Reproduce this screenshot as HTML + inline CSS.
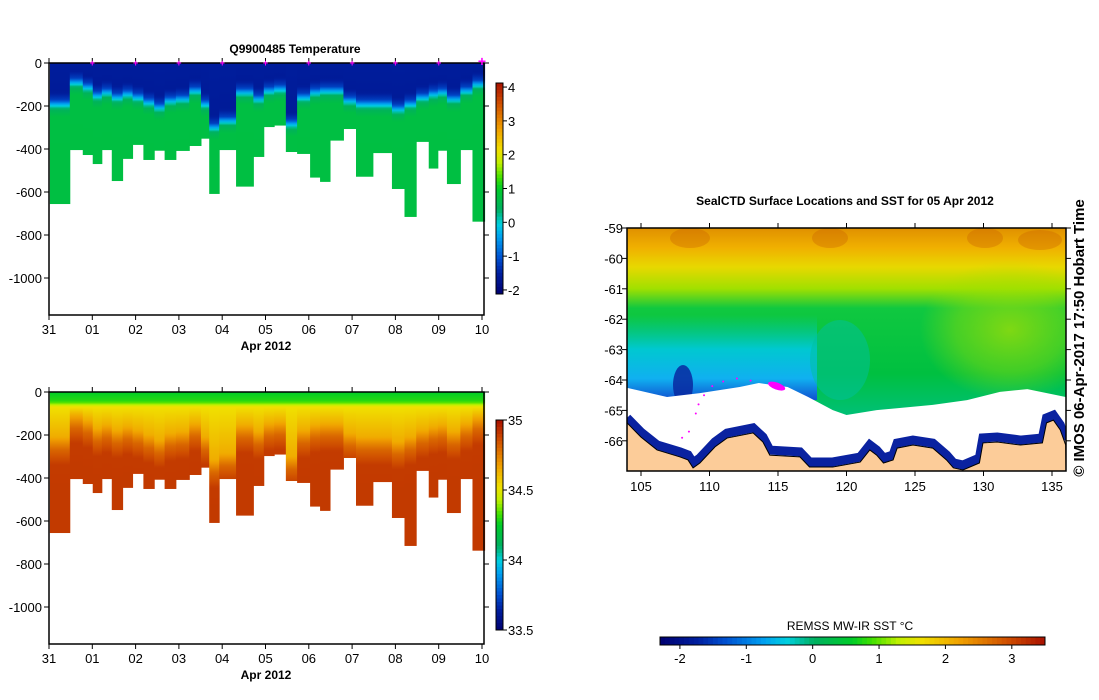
<!DOCTYPE html>
<html><head><meta charset="utf-8"><style>
body{margin:0;background:#fff}
svg{display:block;font-family:"Liberation Sans",sans-serif}
.tk{font-size:13px;fill:#000}
.tt{font-size:12px;font-weight:bold;fill:#000}
</style></head><body>
<svg id="root" width="1099" height="700" viewBox="0 0 1099 700">
<defs>
<linearGradient id="sstgrad" x1="0" y1="0" x2="0" y2="1">
<stop offset="0" stop-color="#e09000"/><stop offset="0.08" stop-color="#f0b000"/>
<stop offset="0.16" stop-color="#e8d800"/><stop offset="0.25" stop-color="#a0e000"/>
<stop offset="0.33" stop-color="#10c840"/><stop offset="0.6" stop-color="#00c040"/>
<stop offset="0.75" stop-color="#00c070"/><stop offset="1" stop-color="#00c0a0"/>
</linearGradient>
<linearGradient id="coldgrad" x1="0" y1="0" x2="0" y2="1">
<stop offset="0" stop-color="#00c8b0" stop-opacity="0"/><stop offset="0.4" stop-color="#00c8d0"/>
<stop offset="0.75" stop-color="#10b0f0"/><stop offset="1" stop-color="#1050d0"/>
</linearGradient>
<radialGradient id="rightgrad" cx="0.5" cy="0.5" r="0.5">
<stop offset="0" stop-color="#b0e000" stop-opacity="0.7"/><stop offset="0.6" stop-color="#a0e000" stop-opacity="0.4"/>
<stop offset="1" stop-color="#a0e000" stop-opacity="0"/>
</radialGradient>
<clipPath id="mapclip"><rect x="627" y="228" width="439" height="243"/></clipPath>
</defs>
<g id="charts"></g>
<g id="map"></g>
</svg>
<script>
// ---- section data ----
const colEdges=[0.02,0.48,0.78,1.01,1.22,1.45,1.70,1.93,2.18,2.43,2.67,2.93,3.24,3.51,3.70,3.93,4.32,4.72,4.96,5.20,5.47,5.73,6.03,6.26,6.49,6.80,7.09,7.48,7.92,8.21,8.48,8.77,8.98,9.19,9.50,9.78,10.06];
const colDepths=[656,405,428,470,405,549,446,381,451,408,451,409,386,352,609,405,575,437,298,291,414,423,533,553,361,307,529,419,586,716,367,491,408,563,405,738];
const clineDepths=[188,87,110,149,133,157,141,157,180,203,172,164,126,188,296,265,133,164,126,118,280,157,133,126,126,172,188,188,211,188,157,141,133,164,126,95];
const dayLabels=["31","01","02","03","04","05","06","07","08","09","10"];
const depthTicks=[0,-200,-400,-600,-800,-1000];
const tempCbarTicks=[4,3,2,1,0,-1,-2];
const salCbarTicks=["35","34.5","34","33.5"];
const salCbarVals=[35,34.5,34,33.5];
const sstTicks=[-2,-1,0,1,2,3];
const latTicks=[-59,-60,-61,-62,-63,-64,-65,-66];
const lonTicks=[105,110,115,120,125,130,135];

const NS="http://www.w3.org/2000/svg";
const root=document.getElementById('root');
const defs=root.querySelector('defs');
const charts=document.getElementById('charts');
function mk(tag,attrs,parent){const e=document.createElementNS(NS,tag);for(const k in attrs)e.setAttribute(k,attrs[k]);(parent||charts).appendChild(e);return e;}

const cmStops=[[0,[0,0,112]],[0.1,[0,32,160]],[0.17,[0,80,208]],[0.27,[0,160,240]],[0.33,[0,208,224]],[0.4,[0,176,96]],[0.5,[0,204,40]],[0.55,[64,224,0]],[0.62,[192,240,0]],[0.68,[240,224,0]],[0.78,[240,160,0]],[0.9,[208,80,0]],[1,[168,16,0]]];
function cmap(f){f=Math.max(0,Math.min(1,f));for(let i=1;i<cmStops.length;i++){if(f<=cmStops[i][0]){const a=cmStops[i-1],b=cmStops[i];const t=(f-a[0])/(b[0]-a[0]);const c=a[1].map((v,j)=>Math.round(v+(b[1][j]-v)*t));return `rgb(${c[0]},${c[1]},${c[2]})`;}}return 'rgb(168,16,0)';}
function pw(pts,d){for(let i=1;i<pts.length;i++){if(d<=pts[i][0]){const a=pts[i-1],b=pts[i];return a[1]+(b[1]-a[1])*(d-a[0])/(b[0]-a[0]);}}return pts[pts.length-1][1];}
function tempAt(tc,d){return pw([[0,-1.55],[Math.max(1,tc-50),-1.6],[tc-15,-1.2],[tc,-0.5],[tc+25,0.4],[tc+60,0.7],[3000,0.8]],d);}
function salAt(tc,d){return pw([[0,34.25],[45,34.3],[70,34.52],[Math.max(71,tc+20),34.64],[tc+80,34.8],[tc+150,34.9],[3000,34.92]],d);}

function section(cfg){
  const X=d=>49+d*43.3;
  const Y=m=>cfg.y0+m*0.215;
  const g=mk('g',{});
  
  
  for(let i=0;i<colDepths.length;i++){
    const gid=cfg.id+'g'+i;
    const lg=mk('linearGradient',{id:gid,x1:0,y1:0,x2:0,y2:1},defs);
    for(let d=0;d<=colDepths[i];d+=10){
      const v=cfg.valAt(clineDepths[i],d);
      mk('stop',{offset:(d/colDepths[i]).toFixed(4),'stop-color':cmap((v-cfg.vmin)/(cfg.vmax-cfg.vmin))},lg);
    }
    const r=mk('rect',{x:X(colEdges[i]),y:Y(0),width:X(colEdges[i+1])-X(colEdges[i])+0.5,height:Y(colDepths[i])-Y(0),fill:`url(#${gid})`},g);
    
    
  }
  const fr=mk('rect',{x:49,y:cfg.y0,width:435,height:cfg.yb-cfg.y0,fill:'none',stroke:'#000','stroke-width':1.5},g);
  
  
  dayLabels.forEach((l,i)=>{
    const x=X(i);
    mk('line',{x1:x,x2:x,y1:cfg.yb,y2:cfg.yb+5,stroke:'#000'},g);
    mk('line',{x1:x,x2:x,y1:cfg.y0,y2:cfg.y0-5,stroke:'#000'},g);
    const t=mk('text',{x:x,y:cfg.yb+19,'text-anchor':'middle',class:'tk'},g);t.textContent=l;
    
    
    if(cfg.markers&&i>0){const m=mk('text',{x:x,y:cfg.y0+3,'text-anchor':'middle','font-size':i==10?14:9,fill:'#ff00ff','font-weight':'bold'},g);m.textContent='+';
      
      }
  });
  depthTicks.forEach(v=>{
    const y=Y(-v);
    mk('line',{x1:44,x2:49,y1:y,y2:y,stroke:'#000'},g);
    mk('line',{x1:484,x2:489,y1:y,y2:y,stroke:'#000'},g);
    const t=mk('text',{x:42,y:y+5,'text-anchor':'end',class:'tk'},g);t.textContent=v;
    
    
  });
  const xt=mk('text',{x:266,y:cfg.yb+35,'text-anchor':'middle',class:'tt'},g);xt.textContent='Apr 2012';
  
  
  if(cfg.title){const tt=mk('text',{x:295,y:53,'text-anchor':'middle',class:'tt'},g);tt.textContent=cfg.title;
    
    }
  const cb=mk('g',{},g);
  
  
  const n=60,h=(cfg.cb1-cfg.cb0)/n;
  for(let k=0;k<n;k++){mk('rect',{x:496,y:cfg.cb0+k*h,width:7,height:h+0.4,fill:cmap(1-(k+0.5)/n)},cb);}
  mk('rect',{x:496,y:cfg.cb0,width:7,height:cfg.cb1-cfg.cb0,fill:'none',stroke:'#000'},cb);
  const CY=v=>cfg.cb1-(v-cfg.vmin)/(cfg.vmax-cfg.vmin)*(cfg.cb1-cfg.cb0);
  cfg.cbVals.forEach((v,i)=>{const y=CY(v);mk('line',{x1:503,x2:507,y1:y,y2:y,stroke:'#000'},cb);
    const t=mk('text',{x:508,y:y+5,class:'tk'},cb);t.textContent=cfg.cbLabels[i];
    
    });
}
section({id:'t',name:'temperature-section',y0:63,yb:315,vmin:-2.12,vmax:4.12,valAt:tempAt,cb0:83,cb1:294,cbVals:tempCbarTicks,cbLabels:tempCbarTicks.map(String),title:'Q9900485  Temperature',markers:true});
section({id:'s',name:'salinity-section',y0:392,yb:644,vmin:33.5,vmax:35,valAt:salAt,cb0:420,cb1:630,cbVals:salCbarVals,cbLabels:salCbarTicks,title:null,markers:false});

// ---- map ----
const map=document.getElementById('map');
const LX=lon=>641+(lon-105)*13.7;
const LY=lat=>228+(-59-lat)*30.4;
const coastLon=[103.98,105,106.17,107.85,108.43,108.8,109.3,110.4,111.28,113.18,113.9,114.4,116.6,117.3,119,121,121.7,122.2,122.7,123.4,123.7,124.85,126.3,127.3,127.8,128.5,129.7,129.96,131,132.7,134.3,134.6,135.1,135.6,136];
const coastLat=[-65.41,-65.88,-66.3,-66.53,-66.63,-66.89,-66.73,-66.2,-65.91,-65.74,-66.04,-66.47,-66.53,-66.86,-66.86,-66.7,-66.3,-66.47,-66.73,-66.63,-66.24,-66.14,-66.24,-66.63,-66.89,-66.96,-66.73,-66.07,-66.04,-66.14,-66.07,-65.41,-65.32,-65.64,-66.14];
const iceLon=[104,106.9,109.3,112.2,113.6,115.7,117.2,119,120,122.2,126.3,128.8,131.2,133.2,136];
const iceLat=[-64.26,-64.56,-64.43,-64.23,-64.1,-64.23,-64.56,-64.99,-65.15,-64.99,-64.82,-64.66,-64.39,-64.3,-64.56];
const trackLon=[108,108.5,109,109.2,109.6,110.2,111,112,113];
const trackLat=[-65.9,-65.7,-65.1,-64.8,-64.5,-64.2,-64.05,-63.95,-64.02];
const cg=mk('g',{'clip-path':'url(#mapclip)'},map);
mk('rect',{x:627,y:228,width:439,height:243,fill:'url(#sstgrad)'},cg);
mk('ellipse',{cx:1010,cy:330,rx:90,ry:70,fill:'url(#rightgrad)'},cg);
mk('rect',{x:627,y:315,width:190,height:85,fill:'url(#coldgrad)'},cg);
mk('ellipse',{cx:840,cy:360,rx:30,ry:40,fill:'#00c0a0',opacity:0.5},cg);
mk('ellipse',{cx:683,cy:385,rx:10,ry:20,fill:'#0828a0',opacity:0.85},cg);
[[690,238,20],[830,238,18],[985,238,18],[1040,240,22]].forEach(p=>mk('ellipse',{cx:p[0],cy:p[1],rx:p[2],ry:10,fill:'#c86000',opacity:0.35},cg));
let icePts=iceLon.map((l,i)=>`${LX(l)},${LY(iceLat[i])}`).join(' ');
const coastPts=coastLon.map((l,i)=>`${LX(l)},${LY(coastLat[i])}`);
const ice=mk('polygon',{points:icePts+' '+coastPts.slice().reverse().join(' '),fill:'#fff'},cg);


const strip=mk('polyline',{points:coastPts.join(' '),fill:'none',stroke:'#0a22a0','stroke-width':9,transform:'translate(0,-5)'},cg);


const land=mk('polygon',{points:coastPts.join(' ')+` 1066,471 627,471`,fill:'#fccc99',stroke:'#000','stroke-width':1},cg);


trackLon.forEach((l,i)=>{const c=mk('circle',{cx:LX(l),cy:LY(trackLat[i]),r:1,fill:'#ff00ff'},cg);
  
  });
const cl=mk('ellipse',{cx:LX(114.9),cy:LY(-64.2),rx:9,ry:3.5,fill:'#ff00ff',transform:`rotate(20 ${LX(114.9)} ${LY(-64.2)})`},cg);


mk('rect',{x:627,y:228,width:439,height:243,fill:'none',stroke:'#000','stroke-width':1.5},map);
latTicks.forEach(v=>{const y=LY(v);mk('line',{x1:622,x2:627,y1:y,y2:y,stroke:'#000'},map);mk('line',{x1:1066,x2:1071,y1:y,y2:y,stroke:'#000'},map);
  const t=mk('text',{x:623,y:y+5,'text-anchor':'end',class:'tk'},map);t.textContent=v;
  
  });
lonTicks.forEach(v=>{const x=LX(v);mk('line',{x1:x,x2:x,y1:471,y2:476,stroke:'#000'},map);mk('line',{x1:x,x2:x,y1:223,y2:228,stroke:'#000'},map);
  const t=mk('text',{x:x,y:491,'text-anchor':'middle',class:'tk'},map);t.textContent=v;
  
  });
const mt=mk('text',{x:845,y:205,'text-anchor':'middle',class:'tt'},map);mt.textContent='SealCTD Surface Locations and SST for 05 Apr 2012';


const st=mk('text',{x:0,y:0,'text-anchor':'middle','font-size':15,'font-weight':'bold',transform:'translate(1084,338) rotate(-90)'},map);st.textContent='© IMOS 06-Apr-2017 17:50 Hobart Time';


const sc=mk('g',{},map);


const sv0=-2.3,sv1=3.5,sx0=660,sx1=1045;
for(let k=0;k<80;k++){const w=(sx1-sx0)/80;mk('rect',{x:sx0+k*w,y:637,width:w+0.4,height:8,fill:cmap((k+0.5)/80)},sc);}
mk('rect',{x:sx0,y:637,width:sx1-sx0,height:8,fill:'none',stroke:'#000'},sc);
sstTicks.forEach(v=>{const x=sx0+(v-sv0)/(sv1-sv0)*(sx1-sx0);mk('line',{x1:x,x2:x,y1:645,y2:649,stroke:'#000'},sc);
  const t=mk('text',{x:x,y:663,'text-anchor':'middle',class:'tk','font-size':12},sc);t.textContent=v;
  
  });
const sct=mk('text',{x:850,y:630,'text-anchor':'middle','font-size':12,fill:'#000'},sc);sct.textContent='REMSS MW-IR SST °C';


</script>
</body></html>
